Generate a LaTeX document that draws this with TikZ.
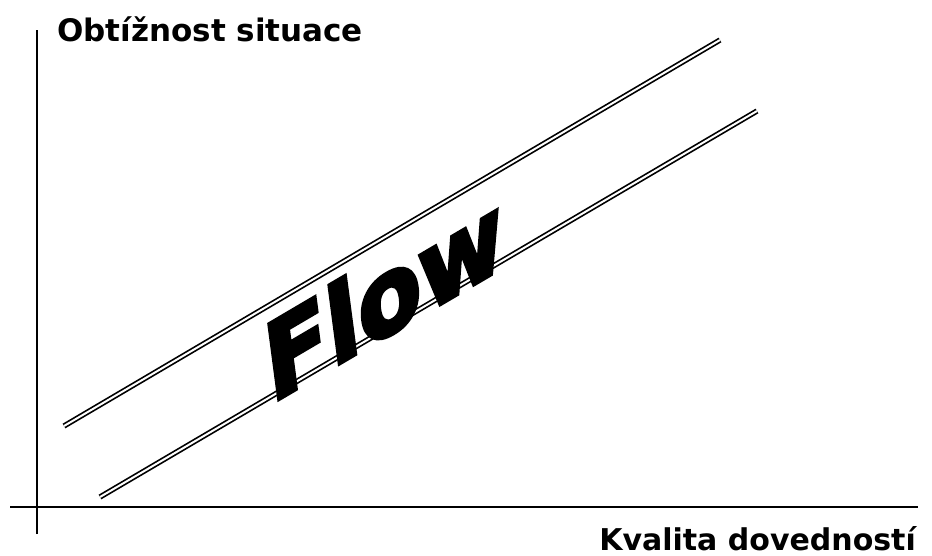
\documentclass[tikz,border=0pt]{standalone}
\usepackage{fontspec}
\newfontfamily\axisfont{DejaVu Sans}
\newfontfamily\flowfont{DejaVu Sans}[BoldFeatures={FakeBold=4}]
\usepackage{tikz}

\begin{document}
\begin{tikzpicture}[x=1pt, y=-1pt, every node/.style={font=\axisfont\bfseries}]
  \useasboundingbox (0,0) rectangle (932,556);
  % axes
  \coordinate (ytop) at (37,30);
  \coordinate (ybot) at (37,534);
  \coordinate (xleft) at (10,507);
  \coordinate (xright) at (918,507);
  \draw[line width=2.8pt] (ybot) -- (ytop);
  \draw[line width=2.8pt] (xleft) -- (xright);
  \node[anchor=base west, font=\axisfont\bfseries\fontsize{31}{31}\selectfont, inner sep=0pt] (ylabel) at (57,42) {Obtížnost situace};
  \node[anchor=base east, font=\axisfont\bfseries\fontsize{30}{30}\selectfont, inner sep=0pt] (xlabel) at (916,550) {Kvalita dovedností};
  % flow channel
  \coordinate (upA) at (64,426);
  \coordinate (upB) at (720,40);
  \coordinate (loA) at (100,497);
  \coordinate (loB) at (757,111);
  \draw[double, line width=1.7pt, double distance=2pt] (upA) -- (upB);
  \draw[double, line width=1.7pt, double distance=2pt] (loA) -- (loB);
  \node[cm={0.862,0.507,-0.13,0.99,(0,0)}, inner sep=0pt, font=\flowfont\bfseries\fontsize{104}{104}\selectfont] (flow) at (384,296) {Flow};
\end{tikzpicture}
\end{document}
